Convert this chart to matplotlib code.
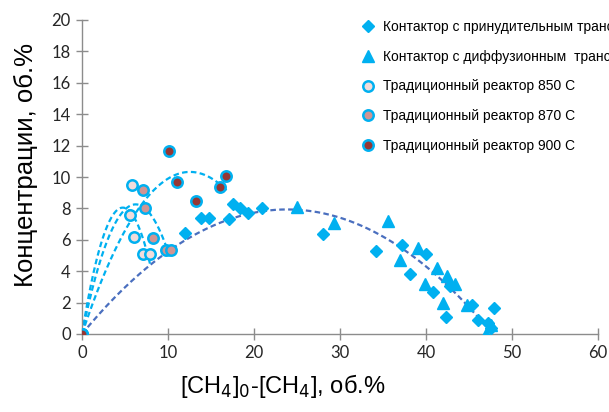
import numpy as np
import matplotlib
matplotlib.use("Agg")
import matplotlib.pyplot as plt

# =========================
# DATA
# =========================
forced_x = [0, 12.0, 13.8, 14.8, 17.1, 17.5, 18.4, 19.3, 20.9, 28.05, 34.15, 37.2,
            40.0, 38.1, 40.8, 42.8, 42.3, 45.4, 47.9, 46.1, 47.2, 47.5]
forced_y = [0, 6.45, 7.37, 7.37, 7.3, 8.26, 8.05, 7.73, 8.0, 6.37, 5.3, 5.65,
            5.1, 3.82, 2.7, 3.06, 1.06, 1.85, 1.68, 0.9, 0.68, 0.36]

diff_x = [0, 25.0, 29.3, 35.6, 39.1, 37.0, 41.3, 42.4, 39.9, 43.4, 42.0, 44.8, 47.0, 47.5]
diff_y = [0, 8.1, 7.1, 7.2, 5.5, 4.7, 4.2, 3.7, 3.18, 3.18, 2.0, 1.85, 0.0, 0.57]

t850_x = [0, 5.8, 5.6, 6.0, 7.1, 7.9]
t850_y = [0, 9.5, 7.6, 6.2, 5.1, 5.1]

t870_x = [0, 7.1, 7.3, 8.2, 9.75, 10.3]
t870_y = [0, 9.2, 8.0, 6.1, 5.35, 5.35]

t900_x = [0, 10.06, 11.1, 13.3, 16.0, 16.8]
t900_y = [0, 11.68, 9.66, 8.49, 9.34, 10.06]

labels = [
    "Контактор с принудительным транспортом",
    "Контактор с диффузионным  транспортом",
    "Традиционный реактор 850 С",
    "Традиционный реактор 870 С",
    "Традиционный реактор 900 С",
]

LIGHT = "#00B0F0"
DARK = "#4A6FBF"


def trend(x, y, deg):
    # polynomial trend line through the origin (Excel "intercept = 0")
    x = np.asarray(x, float)
    y = np.asarray(y, float)
    A = np.column_stack([x ** k for k in range(1, deg + 1)])
    coef, *_ = np.linalg.lstsq(A, y, rcond=None)
    xs = np.linspace(0, x.max(), 200)
    ys = sum(c * xs ** (k + 1) for k, c in enumerate(coef))
    return xs, ys


# =========================
# FIGURE
# =========================
fig = plt.figure(figsize=(6.09, 4.12), dpi=100)
ax = fig.add_axes([82 / 609, 1 - 334 / 412, 516 / 609, 314 / 412])

# trend lines
dash = (0, (2.5, 1.5))
xs, ys = trend(diff_x, diff_y, 2)
ax.plot(xs, ys, ls=dash, color=DARK, lw=1.6, zorder=2)
for tx, ty in [(t850_x, t850_y), (t870_x, t870_y), (t900_x, t900_y)]:
    xs, ys = trend(tx, ty, 2)
    ax.plot(xs, ys, ls=dash, color=LIGHT, lw=1.6, zorder=2)

# points
ax.plot(forced_x, forced_y, "D", ms=6.5, color=LIGHT, mec=LIGHT, ls="none", label=labels[0], zorder=3)
ax.plot(diff_x, diff_y, "^", ms=8, color=LIGHT, mec=LIGHT, ls="none", label=labels[1], zorder=3)
ax.plot(t850_x, t850_y, "o", ms=7.5, mfc="#F2DCDB", mec=LIGHT, mew=1.8, ls="none", label=labels[2], zorder=4)
ax.plot(t870_x, t870_y, "o", ms=7.5, mfc="#D09493", mec=LIGHT, mew=1.8, ls="none", label=labels[3], zorder=4)
ax.plot(t900_x, t900_y, "o", ms=7.5, mfc="#953735", mec=LIGHT, mew=1.8, ls="none", label=labels[4], zorder=5)

ax.set_xlim(0, 60)
ax.set_ylim(0, 20)
ax.set_xticks(range(0, 61, 10))
ax.set_yticks(range(0, 21, 2))

for s in ["top", "right"]:
    ax.spines[s].set_visible(False)
for s in ["left", "bottom"]:
    ax.spines[s].set_color("#8C8C8C")
    ax.spines[s].set_linewidth(1.0)
ax.tick_params(direction="inout", length=8, width=1.0, color="#8C8C8C",
               labelsize=12, labelcolor="#262626", pad=4)
for lab in ax.get_xticklabels() + ax.get_yticklabels():
    lab.set_family("Lato")

# axis titles (x title sits left of the axes centre in the reference)
fig.text(283 / 609, 1 - 386 / 412, "[CH$_4$]$_0$-[CH$_4$], об.%", fontsize=17,
         family="Liberation Sans", ha="center", va="center")
fig.text(26 / 609, 1 - 165 / 412, "Концентрации, об.%", fontsize=18.5,
         family="Liberation Sans", ha="center", va="center", rotation=90)

# legend runs past the right edge and is cut off there, as in the reference
leg = ax.legend(loc="upper left", bbox_to_anchor=(361 / 609, 1 - 20 / 412),
                bbox_transform=fig.transFigure, frameon=False,
                prop={"family": "Liberation Sans", "size": 10},
                handlelength=1.0, handletextpad=0.6, labelspacing=1.13, borderpad=0,
                borderaxespad=0)

fig.savefig("out.png", dpi=100)
